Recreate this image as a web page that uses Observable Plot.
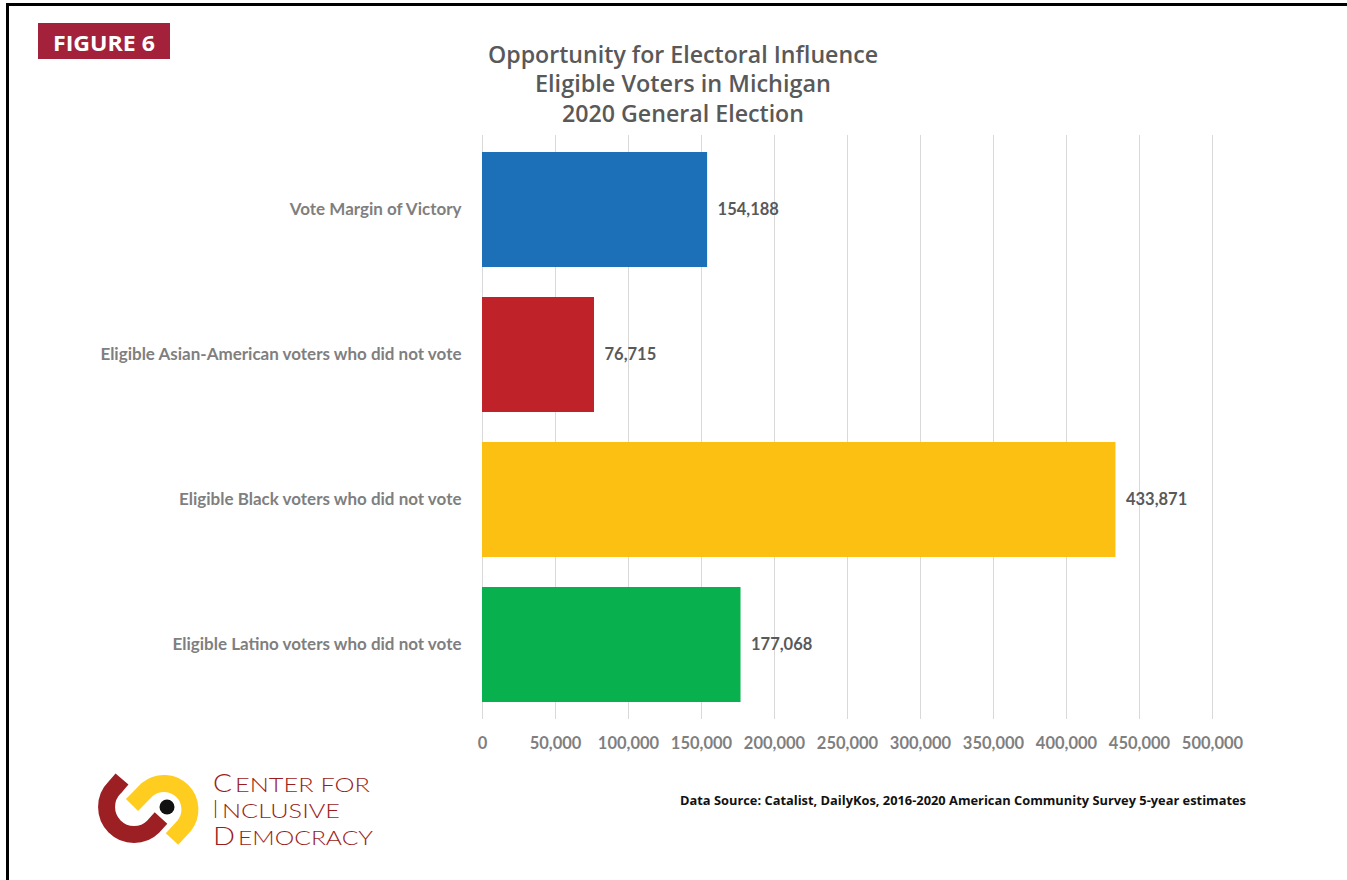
<!DOCTYPE html>
<html>
<head>
<meta charset="utf-8">
<script src="https://cdn.jsdelivr.net/npm/d3@7"></script>
<script src="https://cdn.jsdelivr.net/npm/@observablehq/plot@0.6"></script>
<style>
  html, body { margin: 0; padding: 0; background: #fff; }
  #wrap { position: relative; width: 1347px; height: 880px; overflow: hidden; background: #fff; }
  #frame { position: absolute; left: 6px; top: 3px; width: 1341px; height: 877px; border-top: 3px solid #000; border-left: 3px solid #000; box-sizing: border-box; pointer-events: none; }
  .overlay { position: absolute; left: 0; top: 0; pointer-events: none; }
</style>
</head>
<body>
<div id="wrap">
  <div id="chart"></div>
  <div id="frame"></div>
  <svg class="overlay" width="1347" height="880" xmlns="http://www.w3.org/2000/svg">
    <!-- figure badge -->
    <rect x="38" y="23" width="132" height="36" fill="#A3213A"></rect>
    <text x="53" y="51" font-family="'Open Sans', sans-serif" font-weight="700" font-size="22" fill="#fff" textLength="102" lengthAdjust="spacingAndGlyphs">FIGURE 6</text>
    <!-- title -->
    <g font-family="'Open Sans', sans-serif" font-weight="600" font-size="23.5" fill="#595959">
      <text x="488" y="63" textLength="390" lengthAdjust="spacingAndGlyphs">Opportunity for Electoral Influence</text>
      <text x="535" y="92" textLength="296" lengthAdjust="spacingAndGlyphs">Eligible Voters in Michigan</text>
      <text x="562" y="122" textLength="242" lengthAdjust="spacingAndGlyphs">2020 General Election</text>
    </g>
    <!-- source -->
    <text x="680" y="805" font-family="'Open Sans', sans-serif" font-weight="700" font-size="12.5" fill="#111" textLength="566" lengthAdjust="spacingAndGlyphs">Data Source: Catalist, DailyKos, 2016-2020 American Community Survey 5-year estimates</text>
    <!-- logo -->
    <g fill="none" stroke-width="17" stroke-linecap="butt">
      <path d="M 122 779 L 114.6 787.6 A 27 27 0 0 0 153.4 826.4 L 161 818" stroke="#9B1F23"></path>
      <path d="M 132 805 L 147.4 789.4 A 26 26 0 0 1 184 826 L 172 839" stroke="#FFCD1F"></path>
    </g>
    <circle cx="167" cy="807" r="7.5" fill="#111"></circle>
    <g font-family="Lato, sans-serif" font-weight="300" fill="#9B1D20">
      <text x="213" y="792" font-size="26" textLength="19" lengthAdjust="spacingAndGlyphs">C</text>
      <text x="235" y="792" font-size="19.5" textLength="135" lengthAdjust="spacingAndGlyphs">ENTER FOR</text>
      <text x="213" y="818" font-size="26" textLength="5" lengthAdjust="spacingAndGlyphs">I</text>
      <text x="222" y="818" font-size="19.5" textLength="118" lengthAdjust="spacingAndGlyphs">NCLUSIVE</text>
      <text x="213" y="845" font-size="26" textLength="22" lengthAdjust="spacingAndGlyphs">D</text>
      <text x="238" y="845" font-size="19.5" textLength="135" lengthAdjust="spacingAndGlyphs">EMOCRACY</text>
    </g>
  </svg>
</div>
<script>
const categories = [
  "Vote Margin of Victory",
  "Eligible Asian-American voters who did not vote",
  "Eligible Black voters who did not vote",
  "Eligible Latino voters who did not vote"
];
const values = [154188, 76715, 433871, 177068];
const barColors = ["#1B70B8", "#C0222A", "#FCC012", "#08B04E"];
const xTicks = [0, 50000, 100000, 150000, 200000, 250000, 300000, 350000, 400000, 450000, 500000];

const data = categories.map((c, i) => ({category: c, value: values[i], color: barColors[i]}));
const fmt = d3.format(",");

const chart = Plot.plot({
  width: 1347,
  height: 880,
  marginLeft: 482,
  marginRight: 135,
  marginTop: 135,
  marginBottom: 161,
  style: {fontFamily: "Lato, sans-serif", fontWeight: "700", fontSize: "16px", background: "transparent"},
  x: {domain: [0, 500000], ticks: xTicks, tickFormat: d => fmt(d)},
  y: {domain: categories, paddingInner: 0.21, paddingOuter: 0.11},
  marks: [
    Plot.gridX(xTicks, {stroke: "#d9d9d9", strokeOpacity: 1, strokeWidth: 1}),
    Plot.barX(data, {x: "value", y: "category", fill: "color"}),
    Plot.text(data, {x: "value", y: "category", text: d => fmt(d.value), textAnchor: "start", dx: 10, fill: "#595959", fontSize: 16.5, fontWeight: 700}),
    Plot.axisX(xTicks, {tickSize: 0, tickPadding: 18, color: "#7f7f7f", fontSize: 16.5, fontWeight: 700, label: null, tickFormat: d => fmt(d)}),
    Plot.axisY({tickSize: 0, tickPadding: 21, color: "#7f7f7f", fontSize: 17, fontWeight: 700, label: null})
  ]
});
document.getElementById("chart").appendChild(chart);
</script>
</body>
</html>
